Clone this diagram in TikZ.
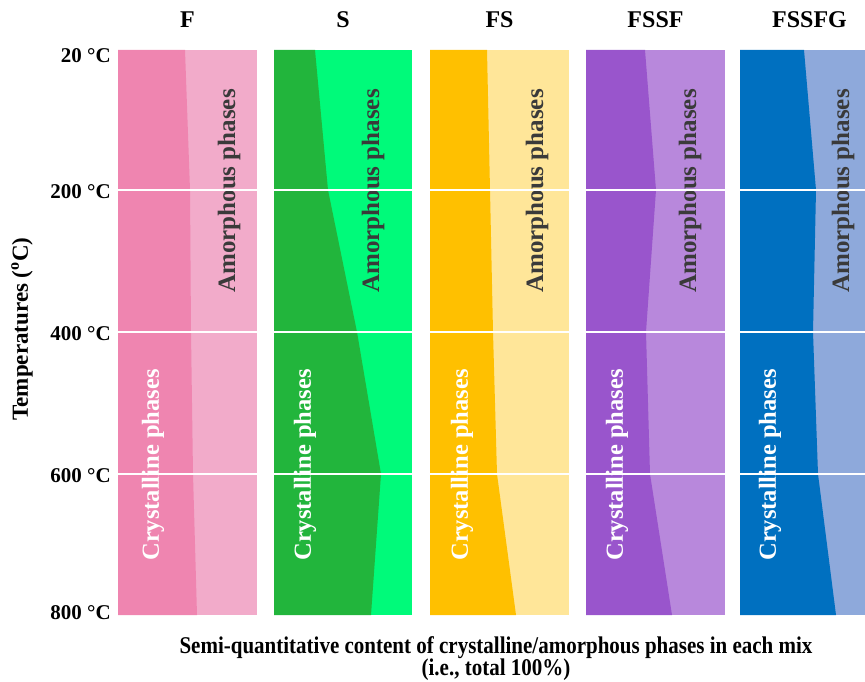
\documentclass[tikz,border=0pt]{standalone}
\usepackage{fontspec}
\setmainfont{Liberation Serif}
\definecolor{fdark}{HTML}{EF85B0}
\definecolor{flight}{HTML}{F2ABCA}
\definecolor{sdark}{HTML}{22B53C}
\definecolor{slight}{HTML}{00FA7A}
\definecolor{fsdark}{HTML}{FFC000}
\definecolor{fslight}{HTML}{FFE699}
\definecolor{fssfdark}{HTML}{9955CC}
\definecolor{fssflight}{HTML}{B888DC}
\definecolor{fssfgdark}{HTML}{0070C0}
\definecolor{fssfglight}{HTML}{8EA9DB}
\definecolor{amotext}{HTML}{3A3A3A}
\tikzset{coltitle/.style={font=\bfseries\fontsize{24}{28}\selectfont},
  templabel/.style={anchor=east,inner sep=0pt,font=\bfseries\fontsize{21}{24}\selectfont},
  crystal/.style={rotate=90,text=white,font=\bfseries\fontsize{24.5}{28}\selectfont},
  amorph/.style={rotate=90,text=amotext,font=\bfseries\fontsize{25}{28}\selectfont},
  rowline/.style={white,line width=2.5pt},
  caption/.style={font=\bfseries\fontsize{24}{22}\selectfont,align=center,xscale=0.875}}

\begin{document}
\begin{tikzpicture}[x=1pt,y=-1pt]
\useasboundingbox (0,0) rectangle (865,682);
\begin{scope}
\clip (0,0) rectangle (865,682);
% columns: name/left/right/colours/boundary at 20,200,400,600,800/label offsets
\foreach \name/\xa/\xb/\dk/\lt/\ba/\bb/\bc/\bd/\be/\cx/\ax in {
    F/118/257/fdark/flight/185/190/191/193/197/35/229,
    S/274/412/sdark/slight/315/328/357/381/371/31/373,
    FS/430/569/fsdark/fslight/487/490/493/497/516/32/537,
    FSSF/586/725/fssfdark/fssflight/645/656/646/650/672/31/690,
    FSSFG/740/879/fssfgdark/fssfglight/804/816/813/818/836/30/843}{
  \fill[\lt] (\xa,50) rectangle (\xb,615);
  \fill[\dk] (\xa,50) -- (\ba,50) -- (\bb,190) -- (\bc,332) -- (\bd,474)
    -- (\be,615) -- (\xa,615) -- cycle;
  \node[coltitle] (title\name) at ({(\xa+\xb)/2},20) {\name};
  \node[crystal] (cryst\name) at (\xa+\cx,465) {Crystalline phases};
  \node[amorph] (amorph\name) at (\ax,191) {Amorphous phases};
  \foreach \y in {190,332,474}
    \draw[rowline] (\xa,\y) -- (\xb,\y);
}
\end{scope}
% temperature axis
\foreach \t/\y in {20/56,200/192,400/334,600/476,800/613}
  \node[templabel] (temp\t) at (111,\y) {\t\ °C};
\node[rotate=90,font=\bfseries\fontsize{23}{26}\selectfont] (ylabel) at (22,329) {Temperatures (\textsuperscript{o}C)};
\node[caption] (xlabel) at (496,659) {Semi-quantitative content of crystalline/amorphous phases in each mix\\(i.e., total 100\%)};
\end{tikzpicture}
\end{document}
